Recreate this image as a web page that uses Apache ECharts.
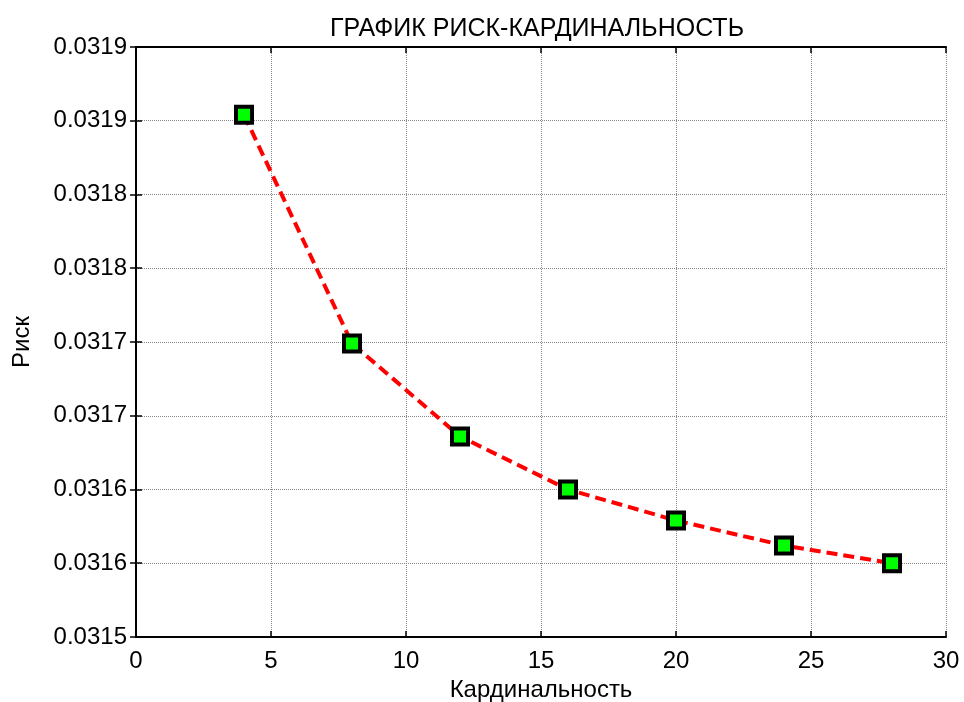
<!DOCTYPE html>
<html>
<head>
<meta charset="utf-8">
<script src="https://cdn.jsdelivr.net/npm/echarts@6/dist/echarts.min.js"></script>
<style>
  html, body { margin: 0; padding: 0; background: #fff; }
  #main { width: 964px; height: 702px; }
</style>
</head>
<body>
<div id="main"></div>
<script>
// данные графика риск-кардинальность
var cardinality = [4, 8, 12, 16, 20, 24, 28];
var risk = [0.031854, 0.031699, 0.031636, 0.031600, 0.031579, 0.031562, 0.031550];
var yTickLabels = ['0.0315', '0.0316', '0.0316', '0.0317', '0.0317', '0.0318', '0.0318', '0.0319', '0.0319'];

var yMin = 0.0315, yStep = 0.00005;
var font = 'Liberation Sans, Arial, sans-serif';

var myChart = echarts.init(document.getElementById('main'));

var seriesData = [];
for (var i = 0; i < cardinality.length; i++) {
    seriesData.push([cardinality[i], risk[i]]);
}

var tickIn = { show: true, inside: true, length: 6, lineStyle: { color: '#000', width: 1.5 } };
var frameLine = { show: true, lineStyle: { color: '#000', width: 2 } };

option = {
    backgroundColor: '#ffffff',
    animation: false,
    title: {
        text: 'ГРАФИК РИСК-КАРДИНАЛЬНОСТЬ',
        left: 532,
        top: 12,
        textAlign: 'center',
        textStyle: { fontFamily: font, fontSize: 25, fontWeight: 'normal', color: '#000' }
    },
    grid: { left: 136, right: 18, top: 47, bottom: 65, outerBoundsMode: 'none', containLabel: false },
    xAxis: [{
        type: 'value',
        min: 0, max: 30, interval: 5,
        name: 'Кардинальность',
        nameLocation: 'middle',
        nameGap: 41,
        nameTextStyle: { fontFamily: font, fontSize: 24, color: '#000' },
        axisLine: frameLine,
        axisTick: tickIn,
        axisLabel: { fontFamily: font, fontSize: 24, color: '#000', margin: 12 },
        splitLine: { show: true, lineStyle: { color: '#888', type: 'dotted', width: 1 } }
    }, {
        type: 'value',
        position: 'top',
        min: 0, max: 30, interval: 5,
        axisLine: frameLine,
        axisTick: tickIn,
        axisLabel: { show: false },
        splitLine: { show: false }
    }],
    yAxis: [{
        type: 'value',
        min: yMin, max: 0.0319, interval: yStep,
        name: 'Риск',
        nameLocation: 'middle',
        nameGap: 102,
        nameTextStyle: { fontFamily: font, fontSize: 24, color: '#000' },
        axisLine: frameLine,
        axisTick: tickIn,
        axisLabel: {
            fontFamily: font, fontSize: 24, color: '#000', margin: 9,
            formatter: function(v) {
                return yTickLabels[Math.round((v - yMin) / yStep)];
            }
        },
        splitLine: { show: true, lineStyle: { color: '#888', type: 'dotted', width: 1 } }
    }, {
        type: 'value',
        position: 'right',
        min: yMin, max: 0.0319, interval: yStep,
        axisLine: frameLine,
        axisTick: tickIn,
        axisLabel: { show: false },
        splitLine: { show: false }
    }],
    series: [{
        type: 'line',
        data: seriesData,
        symbol: 'rect',
        symbolSize: 16,
        lineStyle: { color: '#ff0000', width: 4, type: [11, 6] },
        itemStyle: { color: '#00ff00', borderColor: '#000', borderWidth: 4 },
        z: 5
    }]
};

myChart.setOption(option);
</script>
</body>
</html>
